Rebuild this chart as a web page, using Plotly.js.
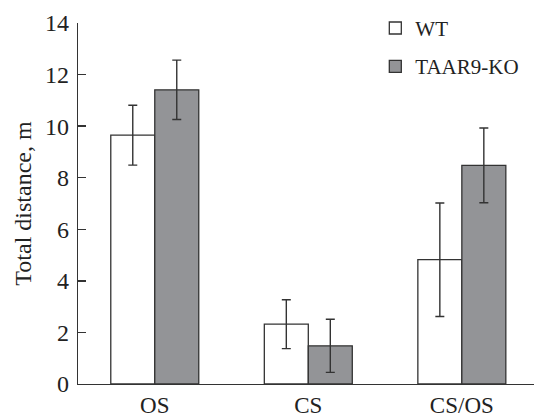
<!DOCTYPE html>
<html>
<head>
<meta charset="utf-8">
<script src="https://cdn.plot.ly/plotly-3.0.1.min.js"></script>
<style>html,body{margin:0;padding:0;background:#fff}#chart{width:534px;height:417px}</style>
</head>
<body>
<div id="chart"></div>
<script>
const categories = ["OS", "CS", "CS/OS"];
const wtValues = [9.65, 2.32, 4.82];
const wtErrors = [1.16, 0.95, 2.2];
const koValues = [11.41, 1.48, 8.48];
const koErrors = [1.15, 1.03, 1.45];
const seriesNames = ["WT", "TAAR9-KO"];
const yTicks = [0, 2, 4, 6, 8, 10, 12, 14];

const lineCol = "#333";
const fam = "Liberation Serif, Times New Roman, serif";
const tickFont = {family: fam, size: 24, color: "#222"};
const xFont = {family: fam, size: 23, color: "#222"};
const titleFont = {family: fam, size: 24, color: "#222"};

const traces = [
  {type: "bar", name: seriesNames[0], x: categories, y: wtValues, legendgroup: "a",
   marker: {color: "#ffffff", line: {color: lineCol, width: 1.3}},
   error_y: {type: "data", array: wtErrors, visible: true, color: lineCol, thickness: 1.4, width: 4.5}},
  {type: "bar", name: seriesNames[1], x: categories, y: koValues, legendgroup: "b",
   marker: {color: "#939497", line: {color: lineCol, width: 1.3}},
   error_y: {type: "data", array: koErrors, visible: true, color: lineCol, thickness: 1.4, width: 4.5}}
];

const layout = {
  width: 534, height: 417,
  margin: {l: 78, r: 0, t: 23, b: 33, pad: 0},
  paper_bgcolor: "#fff", plot_bgcolor: "#fff",
  font: tickFont,
  barmode: "group", bargap: 0.427, bargroupgap: 0,
  showlegend: true,
  legend: {x: 0.652, y: 1.042, xanchor: "left", yanchor: "top", font: {family: fam, size: 21, color: "#222"},
           bgcolor: "rgba(0,0,0,0)", traceorder: "grouped", tracegroupgap: 8, itemwidth: 30},
  xaxis: {type: "category", range: [-0.5, 2.47], showline: true, linecolor: lineCol, linewidth: 1.3,
          ticks: "", showgrid: false, zeroline: false, tickfont: xFont, fixedrange: true},
  yaxis: {range: [0, 14], tickvals: yTicks, ticktext: yTicks.map(String), showline: true, linecolor: lineCol, linewidth: 1.3,
          ticks: "inside", ticklen: 8, tickwidth: 1.3, tickcolor: lineCol, showgrid: false, zeroline: false,
          ticklabelstandoff: 3,
          tickfont: tickFont, title: {text: "Total distance, m", font: titleFont, standoff: 6}, fixedrange: true}
};

Plotly.newPlot("chart", traces, layout, {staticPlot: true, displayModeBar: false});
</script>
</body>
</html>
